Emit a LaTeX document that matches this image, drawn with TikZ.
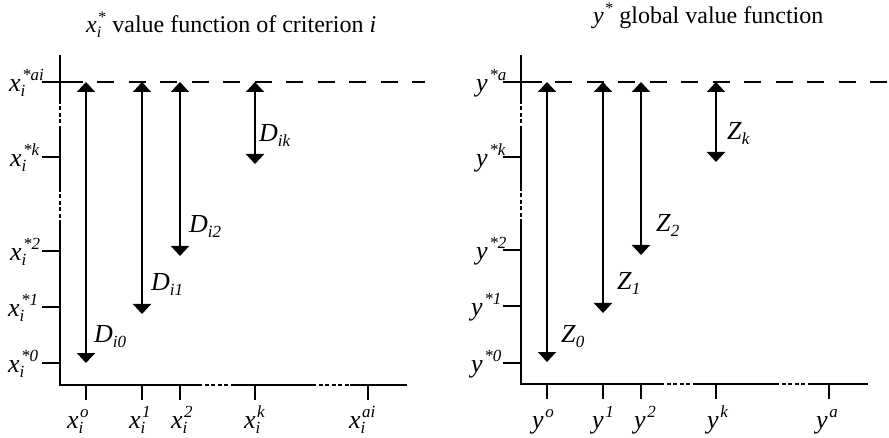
\documentclass[tikz,border=0pt]{standalone}
\usepackage{fontspec}
\setmainfont{Liberation Serif}
\usetikzlibrary{arrows.meta}
\newcommand{\smallit}[1]{{\fontsize{17}{17}\selectfont\itshape #1}}
\newcommand{\lbl}[3]{\textit{#1}\makebox[0pt][l]{\raisebox{-5pt}{\smallit{#2}}}\kern1.5pt\raisebox{11pt}{\smallit{#3}}}
\newcommand{\sublbl}[2]{\textit{#1}\raisebox{-5pt}{\smallit{#2}}}
\begin{document}
\begin{tikzpicture}[x=1pt,y=-1pt,
  axis/.style={line width=2.5pt},
  dotseg/.style={line width=2.5pt, dash pattern=on 4pt off 2.5pt},
  topdash/.style={line width=2.5pt, dash pattern=on 17pt off 14.5pt},
  dim/.style={line width=2pt, {Triangle[width=18pt,length=10pt]}-{Triangle[width=18pt,length=10pt]}},
  lab/.style={font=\fontsize{24}{24}\selectfont, inner sep=0pt, anchor=base west},
  alab/.style={font=\fontsize{26}{26}\selectfont, inner sep=0pt, anchor=base west}]
\useasboundingbox (0,0) rectangle (889,438);

% ---------------- left panel ----------------
\node[lab] (titleL) at (86,33) {\textit{x}\makebox[0pt][l]{\raisebox{-5pt}{\fontsize{16}{16}\selectfont\itshape i}}\kern1.5pt\raisebox{10pt}{\fontsize{16}{16}\selectfont *} value function of criterion \textit{i}};
\draw[axis] (60,55) -- (60,100);
\draw[dotseg] (60,100) -- (60,128);
\draw[axis] (60,128) -- (60,188);
\draw[dotseg] (60,188) -- (60,220);
\draw[axis] (60,220) -- (60,385) -- (198,385);
\draw[dotseg] (198,385) -- (235,385);
\draw[axis] (235,385) -- (312,385);
\draw[dotseg] (312,385) -- (350,385);
\draw[axis] (350,385) -- (407,385);
\draw[axis] (42,82) -- (83,82);
\draw[topdash] (97,82) -- (425,82);
% y ticks
\foreach \yy in {157,251,307,363} \draw[axis] (42,\yy) -- (60,\yy);
% x ticks
\foreach \xx in {86,142,180,255,368} \draw[axis] (\xx,385) -- (\xx,400);
% y labels
\node[alab] (ylai) at (9,91.5) {\lbl{x}{i}{*ai}};
\node[alab] (ylk) at (10,167) {\lbl{x}{i}{*k}};
\node[alab] (yl2) at (10,260.5) {\lbl{x}{i}{*2}};
\node[alab] (yl1) at (8,316.5) {\lbl{x}{i}{*1}};
\node[alab] (yl0) at (8,372.5) {\lbl{x}{i}{*0}};
% x labels
\node[alab] (xl0) at (67,428) {\lbl{x}{i}{o}};
\node[alab] (xl1) at (129,428) {\lbl{x}{i}{1}};
\node[alab] (xl2) at (171,428) {\lbl{x}{i}{2}};
\node[alab] (xlk) at (244,428) {\lbl{x}{i}{k}};
\node[alab] (xlai) at (349,428) {\lbl{x}{i}{ai}};
% arrows
\coordinate (a0t) at (86,82);  \coordinate (a0b) at (86,363);
\coordinate (a1t) at (142,82); \coordinate (a1b) at (142,314);
\coordinate (a2t) at (180,82); \coordinate (a2b) at (180,256);
\coordinate (akt) at (255,82); \coordinate (akb) at (255,164);
\draw[dim] (a0t) -- (a0b);
\draw[dim] (a1t) -- (a1b);
\draw[dim] (a2t) -- (a2b);
\draw[dim] (akt) -- (akb);
\node[alab] (D0) at (94,343) {\sublbl{D}{i0}};
\node[alab] (D1) at (151,291) {\sublbl{D}{i1}};
\node[alab] (D2) at (189,233) {\sublbl{D}{i2}};
\node[alab] (Dk) at (259,142) {\sublbl{D}{ik}};

% ---------------- right panel ----------------
\node[lab] (titleR) at (593,24) {\textit{y}\kern1.5pt\raisebox{10pt}{\fontsize{16}{16}\selectfont *} global value function};
\draw[axis] (521,55) -- (521,100);
\draw[dotseg] (521,100) -- (521,128);
\draw[axis] (521,128) -- (521,187);
\draw[dotseg] (521,187) -- (521,220);
\draw[axis] (521,220) -- (521,384) -- (660,384);
\draw[dotseg] (660,384) -- (697,384);
\draw[axis] (697,384) -- (775,384);
\draw[dotseg] (775,384) -- (810,384);
\draw[axis] (810,384) -- (868,384);
\draw[axis] (503,82) -- (542,82);
\draw[topdash] (555,82) -- (889,82);
\foreach \yy in {157,250,306,363} \draw[axis] (503,\yy) -- (521,\yy);
\foreach \xx in {547,603,641,716,829} \draw[axis] (\xx,384) -- (\xx,399);
% y labels
\node[alab] (zla) at (476,91.5) {\lbl{y}{}{*a}};
\node[alab] (zlk) at (476,166.5) {\lbl{y}{}{*k}};
\node[alab] (zl2) at (476,259.5) {\lbl{y}{}{*2}};
\node[alab] (zl1) at (471,315.5) {\lbl{y}{}{*1}};
\node[alab] (zl0) at (471,372.5) {\lbl{y}{}{*0}};
% x labels
\node[alab] (ul0) at (532,428) {\lbl{y}{}{o}};
\node[alab] (ul1) at (592,428) {\lbl{y}{}{1}};
\node[alab] (ul2) at (634,428) {\lbl{y}{}{2}};
\node[alab] (ulk) at (707,428) {\lbl{y}{}{k}};
\node[alab] (ula) at (816,428) {\lbl{y}{}{a}};
% arrows
\coordinate (b0t) at (547,82); \coordinate (b0b) at (547,362);
\coordinate (b1t) at (603,82); \coordinate (b1b) at (603,313);
\coordinate (b2t) at (641,82); \coordinate (b2b) at (641,255);
\coordinate (bkt) at (716,82); \coordinate (bkb) at (716,162);
\draw[dim] (b0t) -- (b0b);
\draw[dim] (b1t) -- (b1b);
\draw[dim] (b2t) -- (b2b);
\draw[dim] (bkt) -- (bkb);
\node[alab] (Z0) at (561,343) {\sublbl{Z}{0}};
\node[alab] (Z1) at (617,290) {\sublbl{Z}{1}};
\node[alab] (Z2) at (656,232) {\sublbl{Z}{2}};
\node[alab] (Zk) at (727,140) {\sublbl{Z}{k}};
\end{tikzpicture}
\end{document}
